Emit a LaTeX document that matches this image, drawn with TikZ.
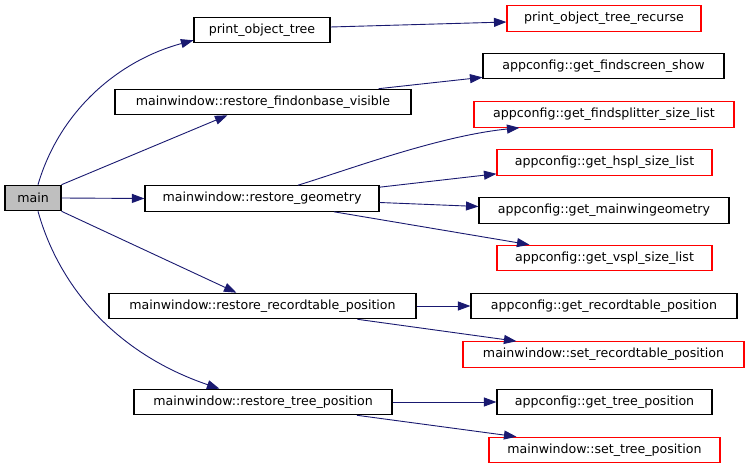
\documentclass[tikz,border=0pt]{standalone}
\usepackage{fontspec}
\setmainfont{DejaVu Sans}
\usetikzlibrary{arrows.meta}
\definecolor{edgeblue}{RGB}{25,25,112}
\definecolor{mainfill}{RGB}{191,191,191}
\tikzset{
  fn/.style={draw=black, line width=1.1bp, fill=white, inner sep=0pt,
    minimum height=25.5bp, font=\fontsize{12.6bp}{15bp}\selectfont},
  fnred/.style={fn, draw=red},
  call/.style={draw=edgeblue, line width=0.9bp,
    -{Triangle[length=12.5bp,width=9bp]}},
}
\begin{document}
\begin{tikzpicture}[x=1bp, y=-1bp]
\useasboundingbox (0,0) rectangle (749,467);
% caller
\node[fn, fill=mainfill, minimum width=56bp] (main) at (33,198) {main};
% first level
\node[fn, minimum width=136bp] (pot) at (262,30) {print\_object\_tree};
\node[fn, minimum width=296bp] (fob) at (263,102) {mainwindow::restore\_findonbase\_visible};
\node[fn, minimum width=234bp] (geo) at (262,198.5) {mainwindow::restore\_geometry};
\node[fn, minimum width=307bp] (rtp) at (262.5,306) {mainwindow::restore\_recordtable\_position};
\node[fn, minimum width=258bp] (tp) at (263,402) {mainwindow::restore\_tree\_position};
% second level
\node[fnred, minimum width=194bp] (potr) at (604,18.5) {print\_object\_tree\_recurse};
\node[fn, minimum width=241bp] (gfs) at (603.5,66) {appconfig::get\_findscreen\_show};
\node[fnred, minimum width=260bp] (gfsl) at (604,114.5) {appconfig::get\_findsplitter\_size\_list};
\node[fnred, minimum width=215bp] (ghs) at (604.5,162.5) {appconfig::get\_hspl\_size\_list};
\node[fn, minimum width=250bp] (gmg) at (604,210.5) {appconfig::get\_mainwingeometry};
\node[fnred, minimum width=215bp] (gvs) at (604.5,258) {appconfig::get\_vspl\_size\_list};
\node[fn, minimum width=266bp] (grp) at (604,306) {appconfig::get\_recordtable\_position};
\node[fnred, minimum width=281bp] (srp) at (603.5,354.5) {mainwindow::set\_recordtable\_position};
\node[fn, minimum width=215bp] (gtp) at (604.5,402) {appconfig::get\_tree\_position};
\node[fnred, minimum width=231bp] (stp) at (604.5,450) {mainwindow::set\_tree\_position};
% calls from main
\draw[call] ([shift={(5,0)}]main.north) .. controls +(22,-75) and +(-74,20) .. ([shift={(0,-3)}]pot.south west);
\draw[call] (main.north east) -- ([shift={(113,0)}]fob.south west);
\draw[call] (main.east) -- (geo.west);
\draw[call] (main.south east) -- ([shift={(128,0)}]rtp.north west);
\draw[call] ([shift={(5,0)}]main.south) .. controls +(22,79) and +(-100,-34) .. ([shift={(86,0)}]tp.north west);
% second level calls
\draw[call] ([shift={(0,-3)}]pot.east) -- ([shift={(0,3.5)}]potr.west);
\draw[call] ([shift={(-33,0)}]fob.north east) -- ([shift={(0,-2)}]gfs.south west);
\draw[call] ([shift={(36,0)}]geo.north) .. controls +(52,-16) and +(-80,8) .. ([shift={(46,0)}]gfsl.south west);
\draw[call] ([shift={(0,2)}]geo.north east) -- ([shift={(0,-2)}]ghs.south west);
\draw[call] ([shift={(0,4)}]geo.east) -- ([shift={(0,-4)}]gmg.west);
\draw[call] ([shift={(72,0)}]geo.south) -- ([shift={(33,0)}]gvs.north west);
\draw[call] (rtp.east) -- (grp.west);
\draw[call] ([shift={(95,0)}]rtp.south) -- ([shift={(54,0)}]srp.north west);
\draw[call] (tp.east) -- (gtp.west);
\draw[call] ([shift={(94,0)}]tp.south) -- ([shift={(28,0)}]stp.north west);
\end{tikzpicture}
\end{document}
